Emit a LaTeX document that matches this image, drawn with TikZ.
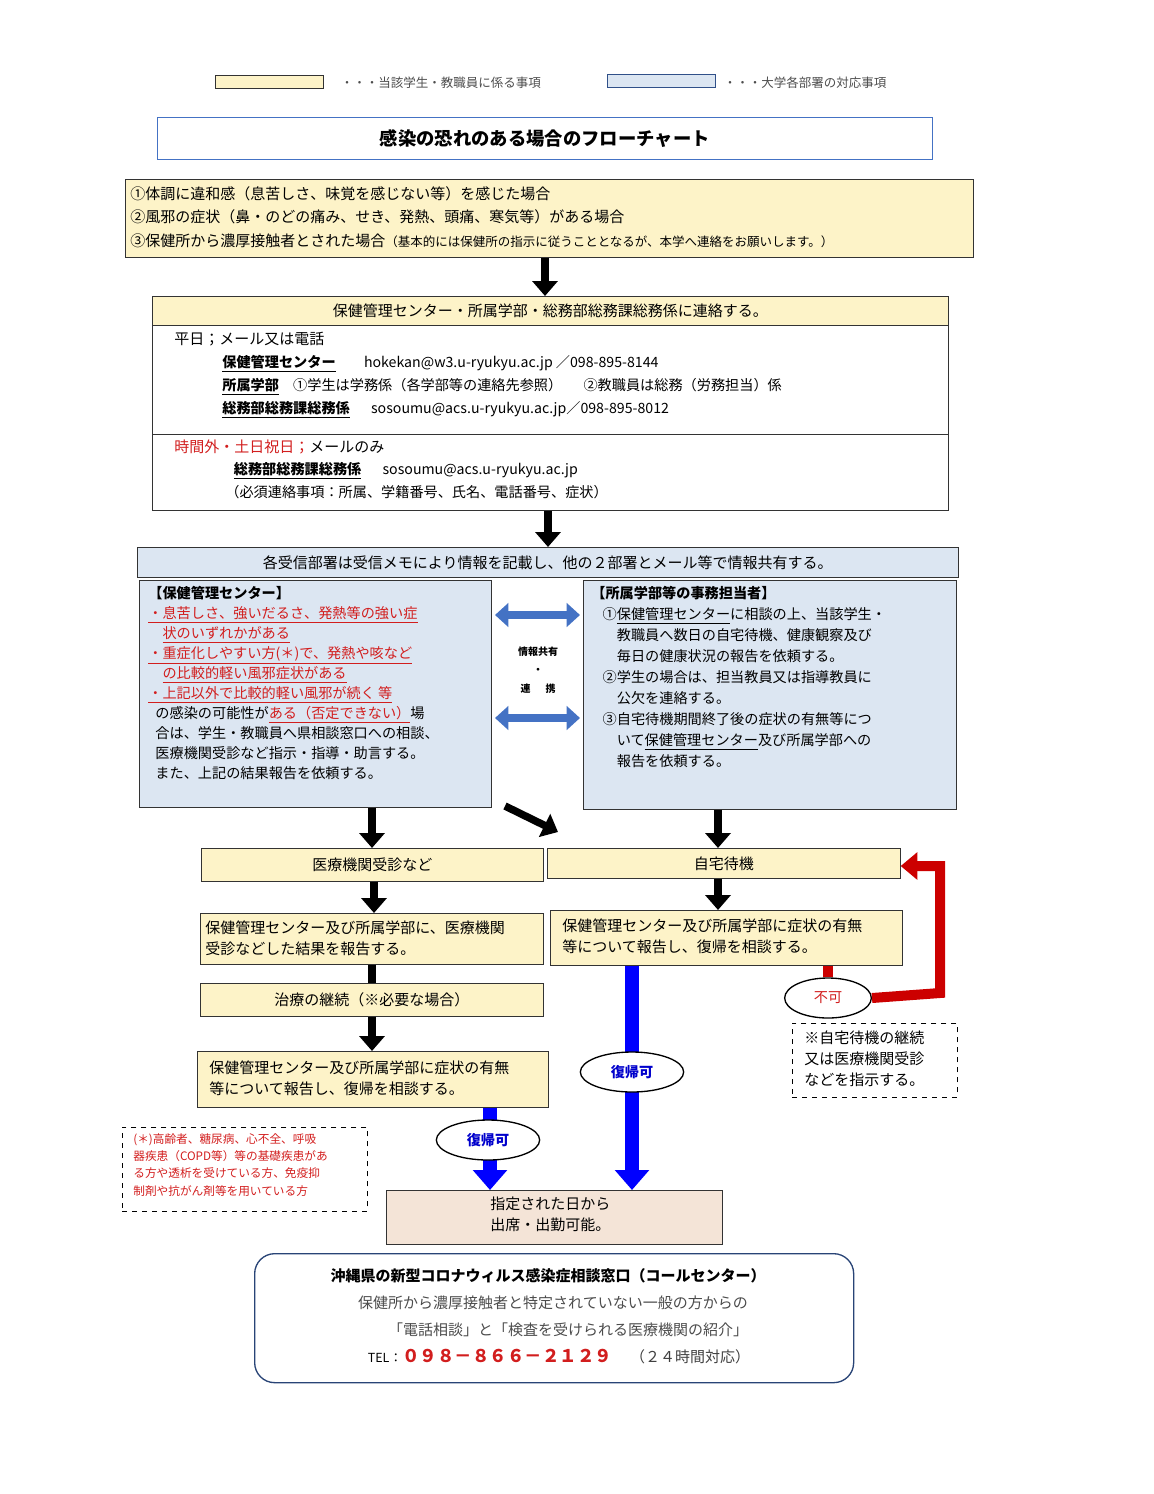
\documentclass[tikz,border=0pt]{standalone}
\usepackage{fontspec}
\setmainfont{Noto Sans CJK JP}
\usetikzlibrary{arrows.meta,shapes.geometric}
\definecolor{ybg}{RGB}{253,243,200}
\definecolor{bbg}{RGB}{220,230,242}
\definecolor{pbg}{RGB}{244,228,215}
\definecolor{dblue}{RGB}{68,114,196}
\definecolor{rtxt}{RGB}{210,30,30}
\tikzset{
  wh/.style 2 args={minimum width=#1*0.6pt, minimum height=#2*0.6pt},
  ybox/.style={draw=black!80,fill=ybg,inner sep=0pt,anchor=north west},
  bbox/.style={draw=black!80,fill=bbg,inner sep=0pt,anchor=north west},
  wbox/.style={draw=black!80,fill=white,inner sep=0pt,anchor=north west},
  lbl/.style={anchor=north west,inner sep=0pt,align=left},
  blk/.style={line width=4.5pt,-{Triangle[length=9pt,width=15pt]}},
  bluarr/.style={draw=blue,line width=8pt,-{Triangle[length=12pt,width=20pt]}},
  dbl/.style={draw=dblue,fill=dblue,line width=5pt,{Triangle[length=8pt,width=14pt]}-{Triangle[length=8pt,width=14pt]}},
  oval/.style={ellipse,draw,fill=white,thick,minimum width=62pt,minimum height=24pt,inner sep=0pt}
}
\begin{document}
\begin{tikzpicture}[x=0.6pt,y=-0.6pt,font=\fontsize{9}{12.6}\selectfont]
\useasboundingbox (0,0) rectangle (1154,1494);
% legend
\node[ybox,wh={108}{13}] (legy) at (215,75) {};
\node[anchor=west,font=\fontsize{7.5}{9}\selectfont,text=black!70] (legyt) at (335,83) {・・・当該学生・教職員に係る事項};
\node[bbox,draw=dblue!70!black,wh={108}{13}] (legb) at (607,74) {};
\node[anchor=west,font=\fontsize{7.5}{9}\selectfont,text=black!70] (legbt) at (718,83) {・・・大学各部署の対応事項};
% title
\node[wbox,draw=dblue,wh={775}{42},font=\fontsize{11}{13}\bfseries\selectfont] (title) at (157,117) {感染の恐れのある場合のフローチャート};
% cases
\node[ybox,wh={848}{78}] (cases) at (125,179) {};
\node[lbl] (casest) at (130,186) {①体調に違和感（息苦しさ、味覚を感じない等）を感じた場合\\[1.5pt]②風邪の症状（鼻・のどの痛み、せき、発熱、頭痛、寒気等）がある場合\\[1.5pt]③保健所から濃厚接触者とされた場合{\fontsize{7.5}{9}\selectfont（基本的には保健所の指示に従うこととなるが、本学へ連絡をお願いします。）}};
% contact box
\node[ybox,wh={796}{29}] (conh) at (152,296) {保健管理センター・所属学部・総務部総務課総務係に連絡する。};
\node[wbox,wh={796}{109}] (conw) at (152,325) {};
\node[wbox,wh={796}{76}] (cono) at (152,434) {};
\node[lbl] (conwt) at (174,332) {平日；メール又は電話};
\node[lbl,font=\fontsize{8.5}{12.6}\selectfont] (conwl) at (222,355) {\textbf{\underline{保健管理センター}}\hspace{2em}hokekan@w3.u-ryukyu.ac.jp ／098-895-8144\\[1.2pt]\textbf{\underline{所属学部}}\hspace{1em}①学生は学務係（各学部等の連絡先参照）\hspace{1.5em}②教職員は総務（労務担当）係\\[1.2pt]\textbf{\underline{総務部総務課総務係}}\hspace{1.5em}sosoumu@acs.u-ryukyu.ac.jp／098-895-8012};
\node[lbl] (conot) at (174,440) {\textcolor{rtxt}{時間外・土日祝日；}メールのみ};
\node[lbl,font=\fontsize{8.5}{12.6}\selectfont] (conol) at (174,462) {\hspace{4.2em}\textbf{\underline{総務部総務課総務係}}\hspace{1.5em}sosoumu@acs.u-ryukyu.ac.jp\\[1.2pt]\hspace{3.6em}（必須連絡事項：所属、学籍番号、氏名、電話番号、症状）};
\draw[blk] (cases.south -| 545,0) -- (conh.north -| 545,0);
% sharing bar
\node[bbox,wh={821}{30}] (share) at (137,547) {各受信部署は受信メモにより情報を記載し、他の２部署とメール等で情報共有する。};
\draw[blk] (cono.south -| 548,0) -- (share.north -| 548,0);
% health center / faculty
\node[bbox,wh={352}{227}] (hc) at (139,580) {};
\node[lbl,font=\fontsize{8.5}{12}\selectfont] (hct) at (148,586) {\textbf{【保健管理センター】}\\
\textcolor{rtxt}{\underline{・息苦しさ、強いだるさ、発熱等の強い症}}\\
\textcolor{rtxt}{\hspace{1em}\underline{状のいずれかがある}}\\
\textcolor{rtxt}{\underline{・重症化しやすい方(＊)で、発熱や咳など}}\\
\textcolor{rtxt}{\hspace{1em}\underline{の比較的軽い風邪症状がある}}\\
\textcolor{rtxt}{\underline{・上記以外で比較的軽い風邪が続く\ 等}}\\
\hspace{0.5em}の感染の可能性が\textcolor{rtxt}{\underline{ある（否定できない）}}場\\
\hspace{0.5em}合は、学生・教職員へ県相談窓口への相談、\\
\hspace{0.5em}医療機関受診など指示・指導・助言する。\\
\hspace{0.5em}また、上記の結果報告を依頼する。};
\node[bbox,wh={373}{229}] (fac) at (583,580) {};
\node[lbl,font=\fontsize{8.5}{12.6}\selectfont] (fact) at (591,586) {\textbf{【所属学部等の事務担当者】}\\
\hspace{0.8em}①\underline{保健管理センター}に相談の上、当該学生・\\
\hspace{1.8em}教職員へ数日の自宅待機、健康観察及び\\
\hspace{1.8em}毎日の健康状況の報告を依頼する。\\
\hspace{0.8em}②学生の場合は、担当教員又は指導教員に\\
\hspace{1.8em}公欠を連絡する。\\
\hspace{0.8em}③自宅待機期間終了後の症状の有無等につ\\
\hspace{1.8em}いて\underline{保健管理センター}及び所属学部への\\
\hspace{1.8em}報告を依頼する。};
\coordinate (d1l) at (495,615); \coordinate (d1r) at (580,615);
\coordinate (d2l) at (495,718); \coordinate (d2r) at (580,718);
\draw[dbl] (d1l) -- (d1r);
\draw[dbl] (d2l) -- (d2r);
\node[align=center,font=\fontsize{6}{11}\bfseries\selectfont] (link) at (538,670) {情報共有\\・\\連\hspace{1.5em}携};
% second stage
\node[ybox,wh={342}{33}] (med) at (201,848) {医療機関受診など};
\node[ybox,wh={353}{30}] (home) at (547,848) {自宅待機};
\draw[blk] (hc.south -| 372,0) -- (med.north -| 372,0);
\draw[blk] (fac.south -| 718,0) -- (home.north -| 718,0);
\coordinate (diag1) at (505,806); \coordinate (diag2) at (558,832);
\draw[blk] (diag1) -- (diag2);
\node[ybox,wh={343}{51}] (medrep) at (200,913) {};
\node[lbl] (medrept) at (205,920) {保健管理センター及び所属学部に、医療機関\\受診などした結果を報告する。};
\node[ybox,wh={352}{55}] (homerep) at (550,910) {};
\node[lbl] (homerept) at (562,918) {保健管理センター及び所属学部に症状の有無\\等について報告し、復帰を相談する。};
\draw[blk] (med.south -| 374,0) -- (medrep.north -| 374,0);
\draw[blk] (home.south -| 718,0) -- (homerep.north -| 718,0);
\node[ybox,wh={343}{33}] (cure) at (200,983) {治療の継続（※必要な場合）};
\draw[line width=4.5pt] (medrep.south -| 372,0) -- (cure.north -| 372,0);
\node[ybox,wh={351}{56}] (currep) at (197,1051) {};
\node[lbl] (currept) at (209,1060) {保健管理センター及び所属学部に症状の有無\\等について報告し、復帰を相談する。};
\draw[blk] (cure.south -| 372,0) -- (currep.north -| 372,0);
% final
\node[draw=black!80,fill=pbg,anchor=north west,inner sep=0pt,wh={336}{54}] (final) at (386,1190) {};
\node[lbl] (finalt) at (490,1197) {指定された日から\\出席・出勤可能。};
\draw[bluarr] (currep.south -| 490,0) -- (final.north -| 490,0);
\node[oval,text=blue!80!black,font=\fontsize{8.5}{10}\bfseries\rmfamily\selectfont] (ok1) at (488,1140) {復帰可};
\draw[bluarr] (homerep.south -| 632,0) -- (final.north -| 632,0);
\node[oval,text=blue!80!black,font=\fontsize{8.5}{10}\bfseries\rmfamily\selectfont] (ok2) at (632,1072) {復帰可};
% not ok
\node[oval,minimum width=52pt,text=rtxt,font=\fontsize{8.5}{10}\selectfont] (ng) at (828,998) {不可};
\coordinate (ngc) at (940,993);
\coordinate (ngt) at (940,866);
\draw[red!80!black,line width=6pt] (homerep.south -| 828,0) -- (ng.north);
\draw[red!80!black,line width=6pt,-{Triangle[length=10pt,width=16pt]}] (ng.east) -- (ngc) -- (ngt) -- (home.east |- ngt);
\node[draw,dashed,anchor=north west,inner sep=0pt,wh={165}{74}] (ngnote) at (792,1023) {};
\node[lbl] (ngnotet) at (804,1031) {※自宅待機の継続\\又は医療機関受診\\などを指示する。};
% footnote
\node[draw,dashed,anchor=north west,inner sep=0pt,wh={245}{84}] (fn) at (122,1127) {};
\node[lbl,text=rtxt,font=\fontsize{7}{10.4}\selectfont] (fnt) at (133,1133) {(＊)高齢者、糖尿病、心不全、呼吸\\器疾患（COPD等）等の基礎疾患があ\\る方や透析を受けている方、免疫抑\\制剤や抗がん剤等を用いている方};
% call center
\node[draw=dblue!60!black,thick,rounded corners=12pt,anchor=north west,inner sep=0pt,wh={599}{129}] (call) at (254,1253) {};
\node[font=\fontsize{9}{11}\bfseries\selectfont] (callt) at (548,1276) {沖縄県の新型コロナウィルス感染症相談窓口（コールセンター）};
\node[text=black!70] (call1) at (553,1303) {保健所から濃厚接触者と特定されていない一般の方からの};
\node[text=black!70] (call2) at (568,1330) {「電話相談」と「検査を受けられる医療機関の紹介」};
\node[anchor=west] (call3) at (362,1357) {{\fontsize{7.5}{9}\selectfont TEL：}\textcolor{rtxt}{\fontsize{10.5}{12}\bfseries\selectfont ０９８－８６６－２１２９}\hspace{1.2em}\textcolor{black!75}{（２４時間対応）}};
\end{tikzpicture}
\end{document}
